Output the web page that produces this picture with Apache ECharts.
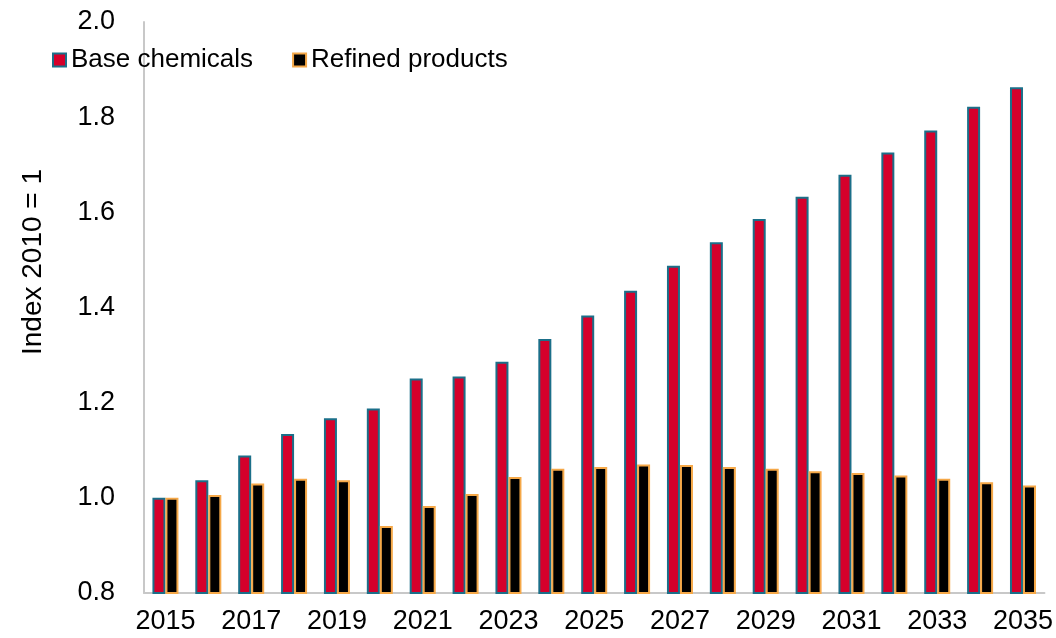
<!DOCTYPE html>
<html>
<head>
<meta charset="utf-8">
<script src="https://cdn.jsdelivr.net/npm/echarts@6/dist/echarts.min.js"></script>
<style>
  html, body { margin: 0; padding: 0; background: #ffffff; }
  #chart { width: 1056px; height: 638px; }
</style>
</head>
<body>
<div id="chart"></div>
<script>
// Years on the category axis
const years = ['2015','2016','2017','2018','2019','2020','2021','2022','2023','2024','2025',
               '2026','2027','2028','2029','2030','2031','2032','2033','2034','2035'];

// Index values (2010 = 1)
const baseChemicals = [1.000, 1.037, 1.089, 1.134, 1.167, 1.188, 1.251, 1.255, 1.286, 1.334, 1.383,
                       1.435, 1.488, 1.537, 1.586, 1.633, 1.679, 1.726, 1.772, 1.822, 1.863];
const refinedProducts = [1.000, 1.006, 1.030, 1.040, 1.037, 0.941, 0.983, 1.008, 1.044, 1.061, 1.065,
                         1.070, 1.069, 1.065, 1.061, 1.056, 1.052, 1.047, 1.040, 1.033, 1.026];

const seriesNames = ['Base chemicals', 'Refined products'];
const yAxisTitle = 'Index 2010 = 1';

const FONT = '"Liberation Sans", Arial, sans-serif';

const chart = echarts.init(document.getElementById('chart'), null, { renderer: 'canvas' });

chart.setOption({
  animation: false,
  backgroundColor: '#ffffff',
  grid: { left: 144, right: 11, top: 22, bottom: 45, containLabel: false },
  legend: {
    left: 52,
    top: 47,
    padding: 0,
    icon: 'rect',
    itemWidth: 13,
    itemHeight: 13,
    itemGap: 39,
    textStyle: { fontFamily: FONT, fontSize: 26, color: '#000000', padding: [0, 0, 0, 0] },
    data: seriesNames
  },
  graphic: [{
    type: 'text',
    x: 33,
    y: 262,
    rotation: Math.PI / 2,
    style: {
      text: yAxisTitle,
      fontFamily: FONT,
      fontSize: 28,
      fill: '#000000',
      align: 'center',
      verticalAlign: 'middle'
    }
  }],
  xAxis: {
    type: 'category',
    data: years,
    axisLine: { lineStyle: { color: '#c8c8c8', width: 2 } },
    axisTick: { show: false },
    axisLabel: {
      interval: 1,
      fontFamily: FONT,
      fontSize: 27,
      color: '#000000',
      margin: 15
    }
  },
  yAxis: {
    type: 'value',
    min: 0.8,
    max: 2.0,
    interval: 0.2,
    axisLine: { show: true, lineStyle: { color: '#c8c8c8', width: 2 } },
    axisTick: { show: false },
    splitLine: { show: false },
    axisLabel: {
      fontFamily: FONT,
      fontSize: 27,
      color: '#000000',
      margin: 29,
      formatter: v => v.toFixed(1)
    }
  },
  series: [
    {
      name: seriesNames[0],
      type: 'bar',
      data: baseChemicals,
      barWidth: 13,
      barGap: '0%',
      itemStyle: { color: '#d5002b', borderColor: '#1b6f89', borderWidth: 2 }
    },
    {
      name: seriesNames[1],
      type: 'bar',
      data: refinedProducts,
      barWidth: 13,
      itemStyle: { color: '#000000', borderColor: '#f5a848', borderWidth: 2 }
    }
  ]
});
</script>
</body>
</html>
